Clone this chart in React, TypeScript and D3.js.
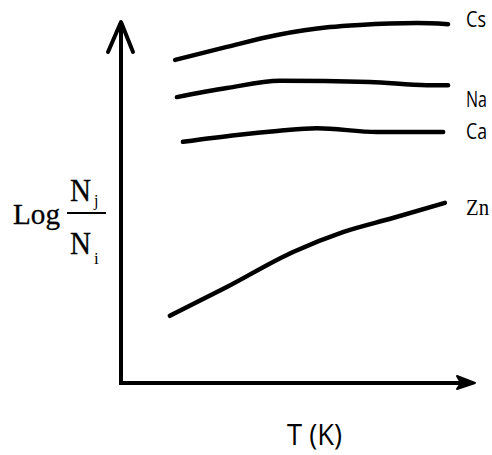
import * as d3 from "d3";

// temperature (arbitrary units along the T axis)
const csT = [15.3, 29.9, 44.1, 59.0, 67.5, 83.6, 92.4];
const csV = [89.5, 93.1, 96.4, 98.6, 99.2, 99.7, 99.4];

const naT = [15.8, 29.9, 44.9, 70.3, 86.4, 92.4];
const naV = [79.2, 81.7, 83.7, 83.4, 82.5, 82.5];

const caT = [17.5, 32.8, 44.1, 55.4, 72.3, 91.0];
const caV = [66.8, 68.7, 69.8, 70.6, 69.5, 69.5];

const znT = [13.8, 29.9, 48.6, 62.7, 76.8, 91.5];
const znV = [18.6, 26.6, 36.3, 41.8, 45.7, 49.9];

const names = ["Cs", "Na", "Ca", "Zn"];
const labelV = [100.8, 78.5, 69.8, 49.0];

const series = [
  { t: csT, v: csV },
  { t: naT, v: naV },
  { t: caT, v: caV },
  { t: znT, v: znV },
];

const W = 492;
const H = 455;

export default function App() {
  const x = d3.scaleLinear().domain([0, 100]).range([121, 475]);
  const y = d3.scaleLinear().domain([0, 100]).range([383, 22]);

  const line = d3
    .line<[number, number]>()
    .x((d) => x(d[0]))
    .y((d) => y(d[1]))
    .curve(d3.curveMonotoneX);

  const x0 = x(0);
  const y0 = y(0);
  const xEnd = x(100);
  const yTop = y(100);
  const sans = "'Open Sans', sans-serif";
  const serif = "'Liberation Serif', 'DejaVu Serif', serif";

  return (
    <svg
      width={W}
      height={H}
      style={{ position: "absolute", left: 0, top: 0, background: "#fff" }}
    >
      {/* axes */}
      <path
        d={`M${x0},${yTop} L${x0},${y0} L${xEnd - 12},${y0}`}
        fill="none"
        stroke="#000"
        strokeWidth={4}
      />
      <path
        d={`M${x0 - 13},${yTop + 30} L${x0},${yTop} L${x0 + 12},${yTop + 30}`}
        fill="none"
        stroke="#000"
        strokeWidth={4}
        strokeLinecap="round"
        strokeLinejoin="round"
      />
      <path
        d={`M${xEnd - 18},${y0 - 7} L${xEnd},${y0} L${xEnd - 18},${y0 + 6} L${xEnd - 14},${y0} Z`}
        fill="#000"
        stroke="#000"
        strokeWidth={2}
        strokeLinejoin="round"
      />

      {/* curves */}
      {series.map((s, i) => (
        <path
          key={names[i]}
          d={line(s.t.map((t, j) => [t, s.v[j]] as [number, number])) || ""}
          fill="none"
          stroke="#000"
          strokeWidth={4.5}
          strokeLinecap="round"
        />
      ))}

      {/* series labels */}
      {names.map((n, i) => (
        <text
          key={n}
          x={466}
          y={y(labelV[i])}
          dy="0.36em"
          fontFamily={n === "Zn" ? serif : sans}
          fontSize={n === "Zn" ? 24 : 21}
          textLength={n === "Cs" ? 20 : n === "Zn" ? 23 : 21}
          lengthAdjust="spacingAndGlyphs"
          fill="#000"
        >
          {n}
        </text>
      ))}

      {/* y label */}
      <text
        x={13}
        y={224}
        fontFamily={serif}
        fontSize={29}
        textLength={47}
        lengthAdjust="spacingAndGlyphs"
        stroke="#000"
        strokeWidth={0.3}
        fill="#000"
      >
        Log
      </text>
      <text
        x={70}
        y={201}
        fontFamily={serif}
        fontSize={32}
        textLength={21}
        lengthAdjust="spacingAndGlyphs"
        stroke="#000"
        strokeWidth={0.3}
        fill="#000"
      >
        N
      </text>
      <text x={94} y={206} fontFamily={serif} fontSize={16} fill="#000">
        j
      </text>
      <line x1={67} x2={106} y1={213} y2={213} stroke="#000" strokeWidth={2} />
      <text
        x={70}
        y={254}
        fontFamily={serif}
        fontSize={32}
        textLength={21}
        lengthAdjust="spacingAndGlyphs"
        stroke="#000"
        strokeWidth={0.3}
        fill="#000"
      >
        N
      </text>
      <text x={94} y={264} fontFamily={serif} fontSize={17} fill="#000">
        i
      </text>

      {/* x label */}
      <text
        x={287}
        y={445}
        fontFamily={sans}
        fontSize={29}
        textLength={55}
        lengthAdjust="spacingAndGlyphs"
        fill="#000"
      >
        T (K)
      </text>
    </svg>
  );
}
